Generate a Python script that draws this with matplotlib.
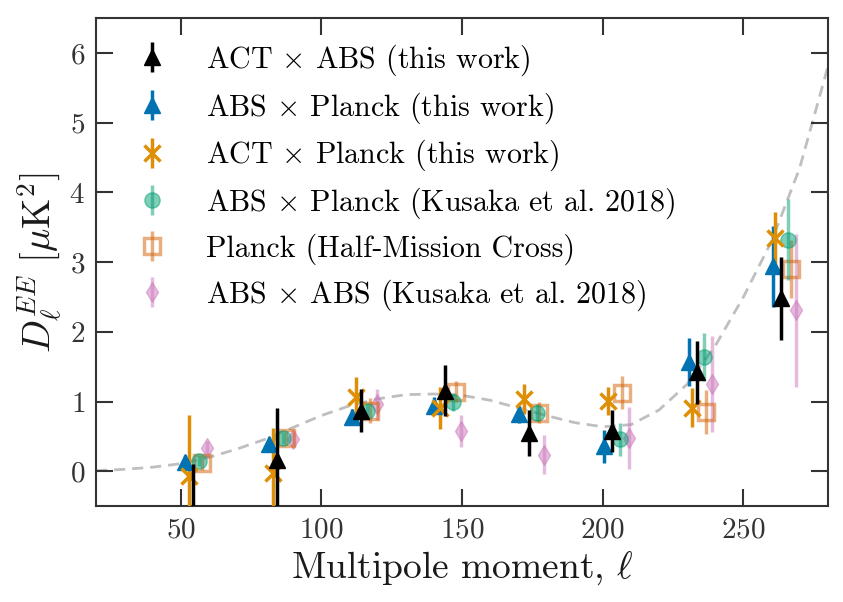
import matplotlib
matplotlib.use('Agg')
import matplotlib.pyplot as plt

plt.rcParams['font.family'] = 'serif'
plt.rcParams['font.serif'] = ['cmr10']
plt.rcParams['mathtext.fontset'] = 'cm'
plt.rcParams['axes.unicode_minus'] = False
plt.rcParams['axes.formatter.use_mathtext'] = True

# theory curve
ell_th = [20, 30, 40, 50, 60, 70, 80, 90, 100, 110, 120, 130, 140, 150, 160,
          170, 180, 190, 200, 210, 220, 230, 240, 250, 260, 270, 280]
dl_th = [0.01, 0.03, 0.06, 0.11, 0.2, 0.32, 0.46, 0.63, 0.8, 0.94, 1.04, 1.1,
         1.11, 1.09, 1.02, 0.91, 0.8, 0.7, 0.64, 0.67, 0.88, 1.25, 1.8, 2.5,
         3.3, 4.35, 5.8]

# ACT x ABS (this work)
ell_aa = [54.5, 84.3, 114.2, 144, 173.8, 203.4, 233.5, 263.4]
dl_aa = [-0.7, 0.17, 0.87, 1.16, 0.55, 0.58, 1.42, 2.48]
err_aa = [0.8, 0.74, 0.31, 0.37, 0.33, 0.3, 0.45, 0.59]

# ABS x Planck (this work)
ell_ap = [51.5, 81.3, 110.9, 140.2, 170.3, 200.5, 230.5, 260.4]
dl_ap = [0.14, 0.39, 0.78, 0.94, 0.82, 0.36, 1.57, 2.94]
err_ap = [0.1, 0.1, 0.12, 0.12, 0.12, 0.24, 0.34, 0.58]

# ACT x Planck (this work)
ell_cp = [53, 82.7, 112.4, 142.2, 172, 201.9, 231.8, 261.3]
dl_cp = [-0.07, -0.02, 1.06, 0.91, 1.04, 1.01, 0.91, 3.35]
err_cp = [0.88, 0.64, 0.3, 0.3, 0.22, 0.2, 0.28, 0.37]

# ABS x Planck (Kusaka et al. 2018)
ell_kp = [56.5, 86.5, 116.2, 146.7, 176.5, 206, 235.9, 265.7]
dl_kp = [0.15, 0.48, 0.87, 0.99, 0.84, 0.46, 1.64, 3.32]
err_kp = [0.07, 0.08, 0.1, 0.13, 0.12, 0.24, 0.35, 0.58]

# Planck (Half-Mission Cross)
ell_pl = [57.5, 87.3, 117.3, 147.8, 177.3, 206.8, 236.7, 266.8]
dl_pl = [0.12, 0.48, 0.87, 1.14, 0.84, 1.13, 0.85, 2.9]
err_pl = [0.1, 0.1, 0.18, 0.15, 0.15, 0.24, 0.32, 0.42]

# ABS x ABS (Kusaka et al. 2018)
ell_ab = [59.5, 89.8, 119.7, 149.5, 179.2, 209.3, 238.9, 268.6]
dl_ab = [0.34, 0.46, 0.96, 0.58, 0.24, 0.48, 1.25, 2.31]
err_ab = [0.1, 0.1, 0.22, 0.23, 0.28, 0.45, 0.69, 1.1]

fig = plt.figure(figsize=(8.43, 6.02), dpi=100)
ax = fig.add_axes([0.114, 0.159, 0.868, 0.811])

ax.plot(ell_th, dl_th, ls='--', color='0.75', lw=2, dashes=(4, 2.5), zorder=1)

ax.errorbar(ell_aa, dl_aa, yerr=err_aa, fmt='^', color='k', ms=11, elinewidth=2.5,
            label=r'ACT $\times$ ABS (this work)', zorder=6)
ax.errorbar(ell_ap, dl_ap, yerr=err_ap, fmt='^', color='#0173B2', ms=11, elinewidth=2.5,
            label=r'ABS $\times$ Planck (this work)', zorder=5)
ax.errorbar(ell_cp, dl_cp, yerr=err_cp, fmt='x', color='#DE8F05', ms=11, mew=2.5,
            elinewidth=2.5, label=r'ACT $\times$ Planck (this work)', zorder=5)
ax.errorbar(ell_kp, dl_kp, yerr=err_kp, fmt='o', color='#029E73', ms=11, elinewidth=2.5,
            alpha=0.5, label=r'ABS $\times$ Planck (Kusaka et al. 2018)', zorder=4)
ax.errorbar(ell_pl, dl_pl, yerr=err_pl, fmt='s', color='#D55E00', mfc='none', ms=12,
            mew=2.5, elinewidth=2.5, alpha=0.5, label='Planck (Half-Mission Cross)', zorder=3)
ax.errorbar(ell_ab, dl_ab, yerr=err_ab, fmt='d', color='#CC78BC', ms=10, elinewidth=2.5,
            alpha=0.5, label=r'ABS $\times$ ABS (Kusaka et al. 2018)', zorder=2)

ax.set_xlim(20, 280)
ax.set_ylim(-0.5, 6.5)
ax.set_xticks([50, 100, 150, 200, 250])
ax.set_yticks([0, 1, 2, 3, 4, 5, 6])
ax.tick_params(direction='in', top=True, right=True, length=12, width=1.5,
               labelsize=21, colors='0.2', pad=8)
for s in ax.spines.values():
    s.set_color('0.2')
    s.set_linewidth(1.5)

ax.set_xlabel(r'Multipole moment, $\ell$', fontsize=27, color='0.1')
ax.set_ylabel(r'$D_\ell^{EE}\ [\mu{\rm K}^2]$', fontsize=28, color='0.1')

ax.legend(loc='upper left', bbox_to_anchor=(0.035, 0.975), borderaxespad=0,
          frameon=False, fontsize=21.6, handlelength=1.2, handletextpad=1.2,
          labelspacing=0.41)

fig.savefig('out.png', dpi=100)
